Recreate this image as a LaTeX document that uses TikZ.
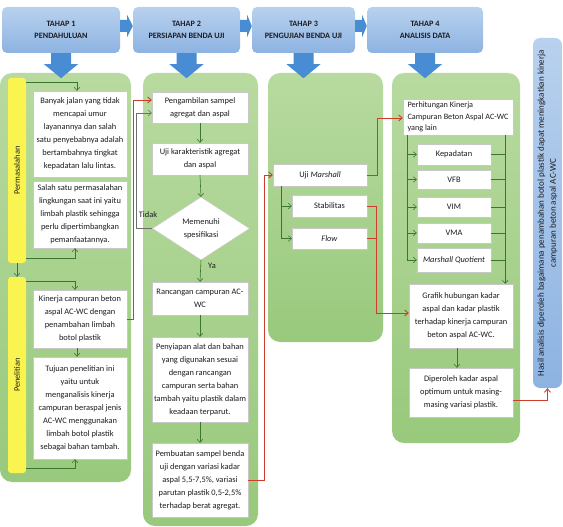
\documentclass[tikz,border=0pt]{standalone}
\usepackage{fontspec}
\setmainfont{Carlito}
\usetikzlibrary{arrows.meta,calc,shapes.geometric}
\definecolor{hdtop}{RGB}{184,209,238}
\definecolor{hdbot}{RGB}{141,179,226}
\definecolor{blk}{RGB}{72,140,212}
\definecolor{grtop}{RGB}{184,218,160}
\definecolor{grbot}{RGB}{152,201,124}
\definecolor{ylw}{RGB}{250,244,80}
\definecolor{redl}{RGB}{204,62,42}
\definecolor{grl}{RGB}{58,118,48}
\definecolor{gryl}{RGB}{110,110,110}
\definecolor{bordr}{RGB}{200,200,200}
\definecolor{txt}{RGB}{28,28,34}
\begin{document}
\begin{tikzpicture}[x=1pt,y=-1pt,
  hbox/.style={rounded corners=5pt, top color=hdtop, bottom color=hdbot, draw=none, align=center, text=txt, font=\bfseries\fontsize{8.2}{11.5}\selectfont},
  panel/.style={rounded corners=12pt, top color=grtop, bottom color=grbot, draw=none},
  ybar/.style={rounded corners=3pt, fill=ylw, draw=none},
  wbox/.style={draw=bordr, line width=0.4pt, fill=white, align=center, inner sep=1pt, text=txt, font=\fontsize{8.4}{13}\selectfont},
  lbl/.style={inner sep=0pt, text=txt, font=\fontsize{8.4}{10}\selectfont},
  barrow/.style={fill=blk, draw=none},
  gline/.style={draw=grl, line width=0.6pt},
  garrow/.style={gline, -{Straight Barb[length=3pt,width=5.5pt]}},
  rline/.style={draw=redl, line width=0.9pt, -{Straight Barb[length=3.5pt,width=6pt]}},
  tline/.style={draw=gryl, line width=0.6pt, -{Straight Barb[length=3pt,width=5.5pt]}}
]
\useasboundingbox (0,0) rectangle (563,527);

% headers
\node[hbox, minimum width=118, minimum height=46] (h1) at (61,30) {TAHAP 1\\PENDAHULUAN};
\node[hbox, minimum width=107, minimum height=46] (h2) at (186.5,30) {TAHAP 2\\PERSIAPAN BENDA UJI};
\node[hbox, minimum width=103, minimum height=46] (h3) at (303.5,30) {TAHAP 3\\PENGUJIAN BENDA UJI};
\node[hbox, minimum width=116, minimum height=46] (h4) at (425,30) {TAHAP 4\\ANALISIS DATA};

% right block arrows between headers
\foreach \a/\b in {h1/h2,h2/h3,h3/h4}{
  \fill[barrow] ($(\a.east)+(0,-10)$) -- ($(\a.east)+(7,-10)$) -- ($(\a.east)+(7,-15)$)
    -- ($(\b.west)+(0,-4)$) -- ($(\a.east)+(7,7)$) -- ($(\a.east)+(7,2)$) -- ($(\a.east)+(0,2)$) -- cycle;
}

% panels
\node[panel, minimum width=131, minimum height=409] (P1) at (65.5,277.5) {};
\node[panel, minimum width=115, minimum height=453] (P2) at (200.5,299.5) {};
\node[panel, minimum width=115, minimum height=269] (P3) at (325.5,207.5) {};
\node[panel, minimum width=128, minimum height=370] (P4) at (456,258) {};

% down block arrows
\foreach \a in {h1,h2,h3,h4}{
  \fill[barrow] ($(\a.south)+(-10,0)$) -- ($(\a.south)+(-10,11)$) -- ($(\a.south)+(-17,11)$)
    -- ($(\a.south)+(0,25)$) -- ($(\a.south)+(17,11)$) -- ($(\a.south)+(10,11)$) -- ($(\a.south)+(10,0)$) -- cycle;
}

% vertical result box
\node[hbox, minimum width=29, minimum height=350, rounded corners=7pt] (vb) at (547.5,213) {};
\node[rotate=90, align=center, inner sep=0pt, text=txt, font=\fontsize{9}{12}\selectfont] (vbt) at (vb) {Hasil analisis diperoleh bagaimana penambahan botol plastik dapat meningkatkan kinerja\\campuran beton aspal AC-WC};

% ---- panel 1
\node[ybar, minimum width=18, minimum height=185] (bar1) at (17,170.5) {};
\node[rotate=90, lbl] (bar1t) at (bar1) {Permasalahan};
\node[ybar, minimum width=18, minimum height=196] (bar2) at (17,375) {};
\node[rotate=90, lbl] (bar2t) at (bar2) {Penelitian};

\node[wbox, minimum width=94, minimum height=86] (b1) at (80,134) {Banyak jalan yang tidak\\mencapai umur\\layanannya dan salah\\satu penyebabnya adalah\\bertambahnya tingkat\\kepadatan lalu lintas.};
\node[wbox, minimum width=94, minimum height=67] (b2) at (80,214.5) {Salah satu permasalahan\\lingkungan saat ini yaitu\\limbah plastik sehingga\\perlu dipertimbangkan\\pemanfaatannya.};
\node[wbox, minimum width=94, minimum height=58] (b3) at (80,319) {Kinerja campuran beton\\aspal AC-WC dengan\\penambahan limbah\\botol plastik};
\node[wbox, minimum width=94, minimum height=102] (b4) at (80,408) {Tujuan penelitian ini\\yaitu untuk\\menganalisis kinerja\\campuran beraspal jenis\\AC-WC menggunakan\\limbah botol plastik\\sebagai bahan tambah.};

\draw[garrow] ($(bar1.north east)+(0,5)$) -| ($(b1.north)+(-3,0)$);
\draw[garrow] ($(bar1.south east)+(0,-5)$) -| ($(b2.south)+(-5,0)$);
\draw[garrow] (bar1.south) -- (bar2.north);
\draw[garrow] ($(bar2.north east)+(0,4)$) -| ($(b3.north)+(-5,0)$);
\draw[garrow] ($(b3.south)+(-3,0)$) -- ($(b4.north)+(-3,0)$);
\draw[garrow] ($(bar2.south east)+(0,-5)$) -| ($(b4.south)+(-5,0)$);

% ---- panel 2
\node[wbox, minimum width=96, minimum height=31] (p1) at (200,107.5) {Pengambilan sampel\\agregat dan aspal};
\node[wbox, minimum width=96, minimum height=32] (p2) at (200,159) {Uji karakteristik agregat\\dan aspal};
\node[wbox, shape=diamond, minimum width=97, minimum height=63, inner sep=0pt] (dia) at (201,228.5) {Memenuhi\\spesifikasi};
\node[wbox, minimum width=96, minimum height=33] (p3) at (200,298.5) {Rancangan campuran AC-\\WC};
\node[wbox, minimum width=96, minimum height=85] (p4) at (200,379.5) {Penyiapan alat dan bahan\\yang digunakan sesuai\\dengan rancangan\\campuran serta bahan\\tambah yaitu plastik dalam\\keadaan terparut.};
\node[wbox, minimum width=96, minimum height=74] (p5) at (200,480) {Pembuatan sampel benda\\uji dengan variasi kadar\\aspal 5,5-7,5\%, variasi\\parutan plastik 0,5-2,5\%\\terhadap berat agregat.};
\node[lbl] (tidak) at (148,215) {Tidak};
\node[lbl] (ya) at (212,266) {Ya};

\draw[garrow] (p1.south) -- (p2.north);
\draw[garrow] (p2.south) -- (dia.north);
\draw[garrow] (dia.south) -- (p3.north);
\draw[garrow] (p3.south) -- (p4.north);
\draw[garrow] (p4.south) -- (p5.north);
\draw[tline] (dia.west) -- ++(-16,0) |- ($(p1.west)+(0,5.5)$);

% ---- panel 3
\node[wbox, minimum width=94, minimum height=22] (u1) at (320,175) {Uji \textit{Marshall}};
\node[wbox, minimum width=75, minimum height=22] (u2) at (329.5,206) {Stabilitas};
\node[wbox, minimum width=75, minimum height=21] (u3) at (329.5,238.5) {\textit{Flow}};
\coordinate (M0) at ($(u1.south west)+(8,0)$);
\draw[garrow] (M0) |- (u2.west);
\draw[garrow] (M0) |- (u3.west);

% ---- panel 4
\node[wbox, minimum width=110, minimum height=36, align=left, font=\fontsize{8.2}{11.5}\selectfont] (k0) at (458,117) {Perhitungan Kinerja\\Campuran Beton Aspal AC-WC\\yang lain};
\node[wbox, minimum width=74, minimum height=21] (k1) at (454,154.5) {Kepadatan};
\node[wbox, minimum width=74, minimum height=19] (k2) at (454,179.5) {VFB};
\node[wbox, minimum width=74, minimum height=20] (k3) at (454,207) {VIM};
\node[wbox, minimum width=74, minimum height=20] (k4) at (454,233) {VMA};
\node[wbox, minimum width=74, minimum height=24] (k5) at (454,260) {\textit{Marshall Quotient}};
\node[wbox, minimum width=104, minimum height=64] (g1) at (461,316) {Grafik hubungan kadar\\aspal dan kadar plastik\\terhadap kinerja campuran\\beton aspal AC-WC.};
\node[wbox, minimum width=104, minimum height=49] (g2) at (461,392.5) {Diperoleh kadar aspal\\optimum untuk masing-\\masing variasi plastik.};

\coordinate (L0) at ($(k0.south west)+(4,0)$);
\coordinate (R0) at ($(k0.south east)+(-8,0)$);
\draw[garrow] (L0) |- (k5.west);
\foreach \k in {k1,k2,k3,k4}{ \draw[garrow] (L0 |- \k.west) -- (\k.west); }
\foreach \k in {k1,k2,k3,k4,k5}{ \draw[gline] (\k.east) -- (R0 |- \k.east); }
\draw[garrow] (R0) -- (R0 |- g1.north);
\draw[garrow] ($(g1.south)+(-4,0)$) -- ($(g2.north)+(-4,0)$);

% ---- red connectors
\draw[rline] (b3.east) -- ++(6,0) |- ($(p1.west)+(0,-7.5)$);
\draw[rline] (p5.east) -- ++(16,0) |- (u1.west);
\draw[rline] (u1.east) -- ++(10,0) |- ($(k0.west)+(0,1)$);
\draw[rline] (u2.east) -- ++(9,0) |- ($(g1.west)+(0,-3)$);
\draw[draw=redl, line width=0.9pt] (u3.east) -- ++(9,0);
\draw[rline] ($(g2.east)+(0,7.5)$) -| (vb.south);
\end{tikzpicture}
\end{document}
